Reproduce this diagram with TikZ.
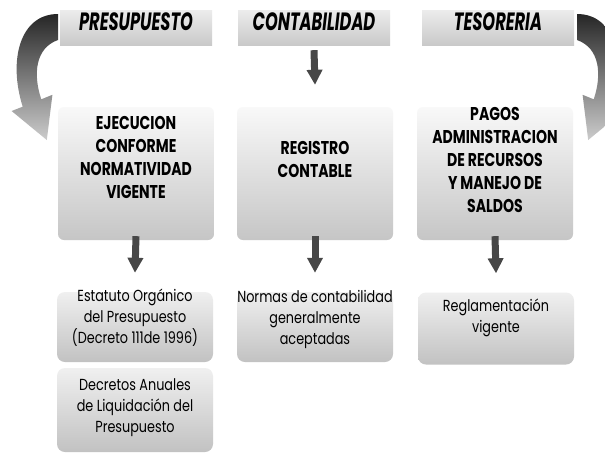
\documentclass[tikz,border=0pt]{standalone}
\usepackage{fontspec}
\setmainfont{Poppins}
\newfontfamily\hdrfont[FakeStretch=0.65]{Poppins}
\newfontfamily\midfont[FakeStretch=0.76]{Poppins}
\newfontfamily\lowfont[FakeStretch=0.8]{Poppins}
\usetikzlibrary{arrows.meta}
\begin{document}
\begin{tikzpicture}[x=1pt,y=-1pt,
 hdr/.style={draw=none, top color=gray!15, bottom color=gray!42, minimum width=152pt, minimum height=35pt, inner sep=0pt},
 midbox/.style={rounded corners=6pt, top color=gray!5, bottom color=gray!45, minimum width=156pt, minimum height=133pt, inner sep=0pt},
 lowbox/.style={rounded corners=8pt, top color=gray!12, bottom color=gray!48, minimum width=156pt, inner sep=0pt},
 hdrtext/.style={font=\hdrfont\bfseries\itshape\fontsize{25}{28}\selectfont, inner sep=0pt},
 midtext/.style={font=\midfont\bfseries\fontsize{18.5}{23}\selectfont, align=center, inner sep=0pt},
 lowtext/.style={font=\lowfont\fontsize{16}{21}\selectfont, align=center, inner sep=0pt},
 downarr/.style={line width=7pt, draw=black!72, -{Triangle[width=15pt,length=15pt]}},
 curvarr/.style={top color=black!85, bottom color=gray!40, draw=none}
]
\fill[white] (0,0) rectangle (605,453);
\useasboundingbox (0,0) rectangle (605,453);

% curved arrows
\path[curvarr] (58,14) .. controls (20,14) and (8,60) .. (22.7,106.7) -- (11.6,111) -- (46.8,140) -- (52.4,94.8) -- (41.3,99.3) .. controls (33,75) and (35,48) .. (58,40) -- cycle;
\path[curvarr] (577,14) .. controls (615,14) and (627,60) .. (612.3,106.7) -- (623.4,111) -- (588.2,140) -- (582.6,94.8) -- (593.7,99.3) .. controls (602,75) and (600,48) .. (577,40) -- cycle;

% headers
\node[hdr] (pres) at (136,27.5) {};
\node[hdr] (cont) at (314,27.5) {};
\node[hdr] (tes) at (498,27.5) {};
\node[hdrtext] (prest) at (136,22) {PRESUPUESTO};
\node[hdrtext] (contt) at (314,22) {CONTABILIDAD};
\node[hdrtext] (test) at (498,22) {TESORERIA};

% middle boxes
\node[midbox] (ejec) at (136,173.5) {};
\node[midbox] (reg) at (315,173.5) {};
\node[midbox] (pag) at (495,173.5) {};
\node[midtext] (eject) at (136,157.5) {EJECUCION\\CONFORME\\NORMATIVIDAD\\VIGENTE};
\node[midtext] (regt) at (315,159) {REGISTRO\\CONTABLE};
\node[midtext] (pagt) at (495,160) {PAGOS\\ADMINISTRACION\\DE RECURSOS\\Y MANEJO DE\\SALDOS};

% lower boxes
\node[lowbox, minimum height=70pt] (est) at (135,327) {};
\node[lowbox, minimum height=84pt] (dec) at (135,410) {};
\node[lowbox, minimum height=70pt] (nor) at (315,327) {};
\node[lowbox, minimum height=72pt] (rgl) at (496,328.5) {};
\node[lowtext] (estt) at (135,318) {Estatuto Orgánico\\del Presupuesto\\(Decreto 111de 1996)};
\node[lowtext] (dect) at (135,408) {Decretos Anuales\\de Liquidación del\\Presupuesto};
\node[lowtext] (nort) at (315,319) {Normas de contabilidad\\generalmente\\aceptadas};
\node[lowtext] (rglt) at (496,318) {Reglamentación\\vigente};

% down arrows
\draw[downarr] ([yshift=-5pt]cont.south) -- ([yshift=22pt]reg.north);
\draw[downarr] ([yshift=4pt]ejec.south) -- ([yshift=19pt]est.north);
\draw[downarr] ([yshift=4pt]reg.south) -- ([yshift=19pt]nor.north);
\draw[downarr] ([yshift=4pt]pag.south) -- ([yshift=19pt]rgl.north);
\end{tikzpicture}
\end{document}
